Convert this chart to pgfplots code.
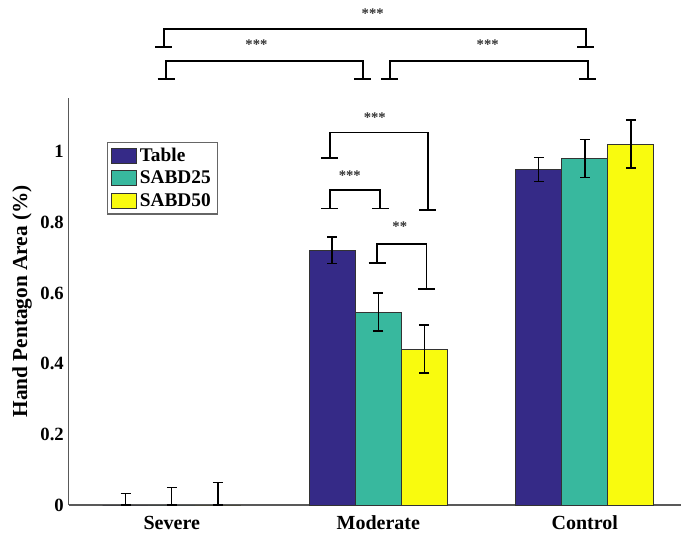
\documentclass[border=0pt]{standalone}
\usepackage{pgfplots}
\pgfplotsset{compat=1.18}
\usepackage{fontspec}
\setmainfont{Liberation Serif}
\definecolor{cTable}{RGB}{53,42,135}
\definecolor{cS25}{RGB}{56,184,158}
\definecolor{cS50}{RGB}{249,251,14}
\newcommand{\brk}[5]{%
  \draw[line width=1.3pt] (axis cs:#1,#4) -- (axis cs:#1,#3) -- (axis cs:#2,#3) -- (axis cs:#2,#5);
  \draw[line width=1.3pt] ([xshift=-6.4pt]axis cs:#1,#4) -- ([xshift=6.4pt]axis cs:#1,#4);
  \draw[line width=1.3pt] ([xshift=-6.4pt]axis cs:#2,#5) -- ([xshift=6.4pt]axis cs:#2,#5);
}
\newcommand{\stars}[3]{\node[font=\bfseries\fontsize{11}{11}\selectfont, text=black!80, anchor=center, inner sep=0pt] at (axis cs:#1,#2) {#3};}
\begin{document}
\begin{tikzpicture}
\begin{axis}[
  scale only axis,
  width=459.4pt, height=305.6pt,
  xmin=-0.5, xmax=2.466,
  ymin=0, ymax=1.153,
  axis x line*=bottom, axis y line*=left,
  x axis line style={-, line width=1pt, draw=black!65},
  y axis line style={-, line width=1pt, draw=black!65},
  major tick length=0pt,
  xtick={0,1,2},
  xticklabels={Severe,Moderate,Control},
  ytick={0,0.2,0.4,0.6,0.8,1},
  /pgf/number format/assume math mode=true,
  xticklabel style={font=\bfseries\fontsize{15}{15}\selectfont, anchor=base, yshift=-18.5pt},
  yticklabel style={font=\bfseries\fontsize{14}{14}\selectfont},
  ylabel={Hand Pentagon Area (\%)},
  ylabel style={font=\bfseries\fontsize{16}{16}\selectfont, at={(axis description cs:-0.0759,0.5)}, anchor=center},
  clip=false,
  ybar=0pt,
  bar width=0.223,
  error bars/y dir=both,
  error bars/y explicit,
  error bars/error bar style={line width=1.1pt, black},
  error bars/error mark options={line width=1.1pt, black, mark size=3.75pt, rotate=90},
  legend style={at={(0.0624,0.8915)}, anchor=north west, draw=black!60, line width=0.8pt,
    font=\bfseries\fontsize{14.5}{15}\selectfont, inner xsep=3pt, inner ysep=2.5pt, row sep=1.5pt},
  legend cell align=left,
  legend image code/.code={\draw[#1,draw=black!80,line width=0.7pt] (0pt,-5.6pt) rectangle (18.75pt,5.6pt);},
]
\addplot[fill=cTable, draw=black!80, line width=0.6pt, bar shift=-0.223] coordinates {
  (0,0) += (0,0.032) -= (0,0)
  (1,0.721) +- (0,0.037)
  (2,0.950) +- (0,0.034)
};
\addplot[fill=cS25, draw=black!80, line width=0.6pt, bar shift=0] coordinates {
  (0,0) += (0,0.049) -= (0,0)
  (1,0.546) +- (0,0.054)
  (2,0.981) +- (0,0.054)
};
\addplot[fill=cS50, draw=black!80, line width=0.6pt, bar shift=0.223] coordinates {
  (0,0) += (0,0.063) -= (0,0)
  (1,0.441) +- (0,0.068)
  (2,1.021) +- (0,0.068)
};
\legend{Table,SABD25,SABD50}
% significance brackets
\brk{-0.039}{2.005}{1.346}{1.296}{1.296}
\brk{-0.027}{0.925}{1.257}{1.205}{1.205}
\brk{1.056}{2.015}{1.257}{1.205}{1.205}
\brk{0.765}{1.240}{1.054}{0.982}{0.834}
\brk{0.765}{1.010}{0.891}{0.839}{0.839}
\brk{0.994}{1.233}{0.738}{0.685}{0.611}
\stars{0.973}{1.389}{***}
\stars{0.41}{1.304}{***}
\stars{1.53}{1.304}{***}
\stars{0.983}{1.097}{***}
\stars{0.862}{0.933}{***}
\stars{1.104}{0.787}{**}
\coordinate (O) at (rel axis cs:0,0);
\end{axis}
\pgfresetboundingbox
\path (O) ++(-51.375pt,-24pt) rectangle ++(510.75pt,402.75pt);
\end{tikzpicture}
\end{document}
